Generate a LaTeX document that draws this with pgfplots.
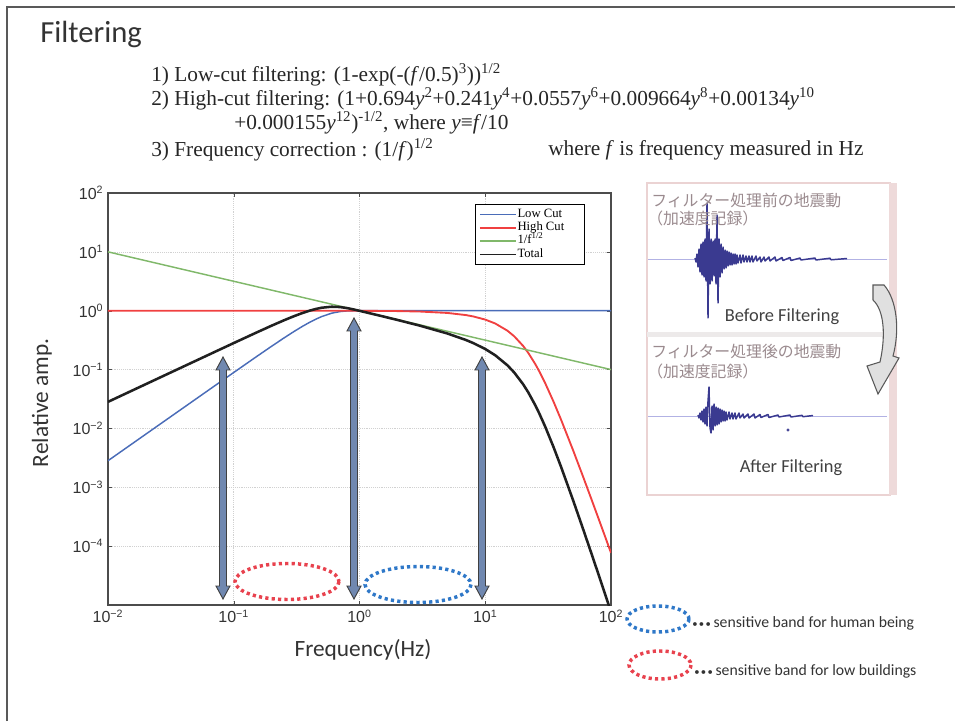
\documentclass[border=0pt]{standalone}
\usepackage{pgfplots}
\pgfplotsset{compat=1.18}
\usepackage{fontspec}
\setmainfont{Liberation Serif}
\newfontfamily\calib{Carlito}
\newfontfamily\hel{Liberation Sans}
\newfontfamily\jp{Noto Sans CJK JP}
\definecolor{lcblue}{HTML}{4A6CB8}
\definecolor{hcred}{HTML}{F04040}
\definecolor{fgreen}{HTML}{80B86A}
\definecolor{tot}{HTML}{202020}
\definecolor{arrowfill}{HTML}{7088B0}
\definecolor{jpgrey}{HTML}{9A8A8E}
\definecolor{wave}{HTML}{3A3A90}
\definecolor{panelpink}{HTML}{EBD3D3}
\definecolor{ellred}{HTML}{E8424E}
\definecolor{ellblue}{HTML}{2F78C8}
\newcommand\dblarrow[3]{\filldraw[fill=arrowfill, draw=black!75, line width=0.7pt]
 (#1-3.5,#2+13) -- (#1-7,#2+13) -- (#1,#2) -- (#1+7,#2+13) -- (#1+3.5,#2+13) --
 (#1+3.5,#3-13) -- (#1+7,#3-13) -- (#1,#3) -- (#1-7,#3-13) -- (#1-3.5,#3-13) -- cycle;}
\begin{document}
\begin{tikzpicture}
\useasboundingbox (0,0) rectangle (716.25pt,540.75pt);
% ---------------- main chart ----------------
\begin{axis}[
  at={(81pt,87pt)}, anchor=south west,
  width=377.25pt, height=309pt, scale only axis,
  xmode=log, ymode=log,
  xmin=0.01, xmax=100, ymin=1e-5, ymax=100,
  xminorticks=false, yminorticks=false,
  xtick={0.01,0.1,1,10,100},
  xticklabels={10\textsuperscript{−2},10\textsuperscript{−1},10\textsuperscript{0},10\textsuperscript{1},10\textsuperscript{2}},
  ytick={1e-4,1e-3,1e-2,0.1,1,10,100},
  yticklabels={10\textsuperscript{−4},10\textsuperscript{−3},10\textsuperscript{−2},10\textsuperscript{−1},10\textsuperscript{0},10\textsuperscript{1},10\textsuperscript{2}},
  tick align=inside, major tick length=3pt,
  tick style={black!70},
  axis line style={draw=black!70, line width=0.9pt},
  grid=major, major grid style={densely dotted, black!18, line width=0.5pt},
  ticklabel style={font=\hel\fontsize{12}{12}\selectfont, text=black!80},
  legend style={at={(0.948,0.973)}, anchor=north east, draw=black, line width=0.6pt,
    font=\fontsize{9.5}{10}\selectfont, inner sep=2.5pt, row sep=0pt,
    nodes={inner sep=0.6pt, text height=6.5pt, text depth=2.3pt},
    cells={anchor=west}, fill=white},
  legend image code/.code={\draw[#1, line width=1.3pt] (0cm,0cm) -- (0.95cm,0cm);},
]
\addplot[lcblue, line width=1.1pt] coordinates {
 (0.01,0.002828) (0.02,0.008) (0.03,0.0147) (0.05,0.03161) (0.07,0.05234)
 (0.1,0.08926) (0.15,0.16322) (0.2,0.24899) (0.25,0.342787) (0.3,0.44075)
 (0.35,0.538853) (0.4,0.63301) (0.45,0.719451) (0.5,0.79506) (0.6,0.90684)
 (0.7,0.96732) (0.8,0.99165) (0.9,0.99853) (1,0.99983) (1.5,1) (100,1)};
\addlegendentry{Low Cut}
\addplot[hcred, line width=1.4pt] coordinates {
 (0.01,1) (0.5,0.99913) (1,0.99655) (2,0.98622) (3,0.96925) (5,0.91690) (7,0.84363)
 (8,0.80083) (10,0.70678) (12,0.60671) (15,0.45830) (17,0.36767) (20,0.25256)
 (22,0.19183) (25,0.12393) (27,0.091827) (30,0.058493) (35,0.028182) (40,0.014227)
 (50,0.004236) (60,0.0015117) (70,0.00062176) (80,0.0002855) (90,0.00014301)
 (100,0.000076826)};
\addlegendentry{High Cut\hspace*{12pt}}
\addplot[fgreen, line width=1.1pt] coordinates {(0.01,10) (100,0.1)};
\addlegendentry{1/f\textsuperscript{1/2}}
\addplot[tot, line width=1.9pt] coordinates {
 (0.01,0.02828) (0.02,0.05657) (0.03,0.08487) (0.05,0.14137) (0.07,0.19783)
 (0.1,0.28227) (0.15,0.42144) (0.2,0.55676) (0.25,0.68542) (0.3,0.80443)
 (0.35,0.91043) (0.4,1.0003) (0.45,1.07174) (0.5,1.12339) (0.6,1.16927)
 (0.7,1.15418) (0.8,1.10621) (0.9,1.04960) (1,0.99638) (1.5,0.81014) (2,0.69737)
 (3,0.55962) (5,0.41005) (7,0.31886) (8,0.28313) (10,0.22350) (12,0.17515)
 (15,0.11833) (17,0.089175) (20,0.05647) (22,0.040898) (25,0.024785) (27,0.017672)
 (30,0.010680) (35,0.0047636) (40,0.002249) (50,0.000599) (60,0.00019516)
 (70,0.00007431) (80,0.00003192) (90,0.000015075) (100,0.00000768)};
\addlegendentry{Total}
\end{axis}
% ---------------- seismogram before ----------------
\begin{axis}[at={(485.25pt,294pt)}, anchor=south west, width=180pt, height=105pt,
  scale only axis, hide axis, xmin=647, xmax=887, ymin=-70, ymax=70, clip=false]
\addplot[color=black!35!blue!30, line width=0.6pt] coordinates {(647,0) (887,0)};
\addplot[wave, line width=1.1pt, line join=round] coordinates {
 (695,1) (696,-3) (697,5) (698,-8) (699,10) (700,-13) (701,15) (702,-16) (703,17)
 (704,-18) (705,20) (706,-22) (707,56) (708,-59) (709,30) (710,-25) (711,20)
 (712,-22) (713,18) (714,-17) (715,20) (716,-25) (717,44) (718,-44) (719,20)
 (720,-18) (721,15) (722,-14) (723,12) (724,-10) (725,9) (726,-9) (727,8) (728,-7)
 (729,7) (730,-6) (731,6) (732,-6) (733,5) (734,-5) (735,5) (736,-5) (737,4)
 (738,-4) (740,4) (741,-4) (743,4) (744,-3) (746,3) (747,-3) (749,3) (750,-3)
 (752,3) (753,-3) (756,3) (757,-2) (760,2) (761,-3) (764,2) (765,-2) (769,2)
 (770,-2) (775,2) (776,-2) (782,1.5) (783,-1.5) (790,1.5) (791,-1.5) (800,1)
 (801,-1) (815,1) (816,-1) (830,0.8) (831,-0.8) (847,0.5)};
\end{axis}
% ---------------- seismogram after ----------------
\begin{axis}[at={(485.25pt,198.75pt)}, anchor=south west, width=180pt, height=60pt,
  scale only axis, hide axis, xmin=647, xmax=887, ymin=-40, ymax=40, clip=false]
\addplot[color=black!35!blue!30, line width=0.6pt] coordinates {(647,0) (887,0)};
\addplot[wave, line width=1.1pt, line join=round] coordinates {
 (698,1) (699,-2) (700,3) (701,-4) (702,5) (703,-6) (704,7) (705,-8) (706,9)
 (707,-10) (708,15) (709,29) (710,-12) (711,-17) (712,10) (713,-14) (714,12)
 (715,-10) (716,9) (717,-9) (718,8) (719,-8) (720,7) (721,-6) (722,6) (723,-5)
 (724,5) (725,-5) (726,4) (727,-4) (729,4) (730,-3) (732,3) (733,-3) (735,3)
 (736,-3) (739,3) (740,-2) (743,2) (744,-2) (748,2) (749,-2) (754,2) (755,-2)
 (760,1.5) (761,-1.5) (768,1.5) (769,-1.5) (778,1) (779,-1) (790,1) (791,-1)
 (802,0.7) (803,-0.7) (813,0.5)};
\addplot[only marks, mark=*, mark size=0.9pt, wave] coordinates {(788,-14)};
\end{axis}
% ---------------- decorations in image coordinates ----------------
\begin{scope}[x=0.75pt, y=-0.75pt, shift={(0pt,540.75pt)}]
 % slide frame
 \draw[black!65, line width=1.9pt] (7,721) -- (7,7) -- (955,7);
 % title
 \node[anchor=west, font=\calib\fontsize{23}{23}\selectfont, text=black!80, inner sep=0] at (40,34) {Filtering};
 % formulas
 \begin{scope}[every node/.style={anchor=west, inner sep=0, font=\fontsize{16}{16}\selectfont, text=black!85}]
 \node at (151,75) {1) Low-cut filtering: (1-exp(-(\textit{f}/0.5)\textsuperscript{3}))\textsuperscript{1/2}};
 \node at (151,99) {2) High-cut filtering: (1+0.694\textit{y}\textsuperscript{2}+0.241\textit{y}\textsuperscript{4}+0.0557\textit{y}\textsuperscript{6}+0.009664\textit{y}\textsuperscript{8}+0.00134\textit{y}\textsuperscript{10}};
 \node at (234,123) {+0.000155\textit{y}\textsuperscript{12})\textsuperscript{-1/2}, where \textit{y}≡\textit{f}/10};
 \node at (151,150) {3) Frequency correction : (1/\textit{f})\textsuperscript{1/2}};
 \node at (548,150) {where \textit{f} is frequency measured in Hz};
 \end{scope}
 % axis labels
 \node[rotate=90, font=\calib\fontsize{17.5}{18}\selectfont, text=black!80] at (42,403) {Relative amp.};
 \node[font=\calib\fontsize{17.5}{18}\selectfont, text=black!80] at (363,650) {Frequency(Hz)};
 % arrows
 \dblarrow{223}{357}{599}
 \dblarrow{354}{318}{599}
 \dblarrow{482}{357}{599}
 % ellipses in chart
 \draw[ellred, line width=2.6pt, dash pattern=on 2.4pt off 2.4pt] (287,581.5) ellipse [x radius=52, y radius=18];
 \draw[ellblue, line width=2.6pt, dash pattern=on 2.4pt off 2.4pt] (418,584.5) ellipse [x radius=53, y radius=18];
 % legend ellipses
 \draw[ellblue, line width=2.6pt, dash pattern=on 2.4pt off 2.4pt] (658,619) ellipse [x radius=31, y radius=13];
 \draw[ellred, line width=2.6pt, dash pattern=on 2.4pt off 2.4pt] (660,665) ellipse [x radius=31, y radius=14];
 \node[anchor=west, inner sep=0, font=\calib\fontsize{11.8}{12}\selectfont, text=black!80] at (692,623) {{\fontsize{8}{8}\selectfont •\kern1pt•\kern1pt•}\kern2pt sensitive band for human being};
 \node[anchor=west, inner sep=0, font=\calib\fontsize{11.8}{12}\selectfont, text=black!80] at (694,671) {{\fontsize{8}{8}\selectfont •\kern1pt•\kern1pt•}\kern2pt sensitive band for low buildings};
 % right panel frame
 \draw[panelpink, line width=1pt] (647,183) rectangle (890,495);
 \fill[panelpink!85] (889,183) rectangle (897,495);
 \fill[panelpink!70!black!20] (647,332) rectangle (890,337);
 \node[anchor=west, inner sep=0, font=\jp\fontsize{11.9}{12}\selectfont, text=jpgrey] at (651,200) {フィルター処理前の地震動};
 \node[anchor=west, inner sep=0, font=\jp\fontsize{11.9}{12}\selectfont, text=jpgrey] at (647,218) {（加速度記録）};
 \node[anchor=west, inner sep=0, font=\jp\fontsize{11.9}{12}\selectfont, text=jpgrey] at (651,352) {フィルター処理後の地震動};
 \node[anchor=west, inner sep=0, font=\jp\fontsize{11.9}{12}\selectfont, text=jpgrey] at (647,371) {（加速度記録）};
 \node[font=\calib\fontsize{13.8}{14}\selectfont, text=black!75] at (782,317) {Before Filtering};
 \node[font=\calib\fontsize{13.8}{14}\selectfont, text=black!75] at (791,468) {After Filtering};
 % curved arrow
 \filldraw[fill=black!12, draw=black!65, line width=0.8pt] (873,285) -- (884,285)
   .. controls (897,300) and (900,330) .. (893,356) -- (899,358) -- (878,394) -- (867,366)
   -- (880,362) .. controls (886,335) and (884,310) .. (873,300) -- cycle;
\end{scope}
\end{tikzpicture}
\end{document}
